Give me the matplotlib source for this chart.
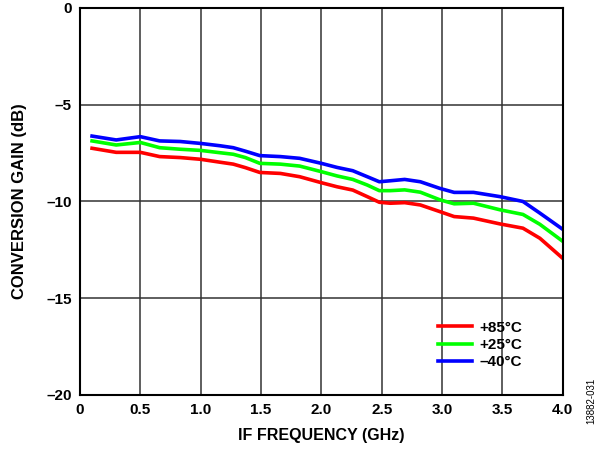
import matplotlib.pyplot as plt

freq = [0.1, 0.3, 0.5, 0.66, 0.83, 1.0, 1.16, 1.27, 1.37, 1.49, 1.66, 1.82, 2.0, 2.13,
        2.26, 2.38, 2.48, 2.57, 2.69, 2.82, 2.98, 3.1, 3.26, 3.48, 3.67, 3.81, 4.0]
gain_85 = [-7.25, -7.46, -7.46, -7.68, -7.73, -7.82, -7.97, -8.07, -8.25, -8.5, -8.55,
           -8.72, -9.03, -9.24, -9.41, -9.75, -10.04, -10.09, -10.06, -10.18, -10.52,
           -10.78, -10.86, -11.16, -11.38, -11.9, -12.94]
gain_25 = [-6.87, -7.08, -6.95, -7.22, -7.3, -7.36, -7.48, -7.56, -7.73, -8.03, -8.07,
           -8.17, -8.46, -8.68, -8.86, -9.15, -9.44, -9.44, -9.4, -9.52, -9.91,
           -10.12, -10.09, -10.43, -10.67, -11.18, -12.06]
gain_m40 = [-6.62, -6.82, -6.65, -6.87, -6.9, -7.0, -7.12, -7.22, -7.4, -7.63, -7.68,
            -7.77, -8.03, -8.24, -8.41, -8.72, -8.98, -8.93, -8.86, -8.98, -9.32,
            -9.53, -9.53, -9.75, -10.0, -10.6, -11.44]

xticks = [0, 0.5, 1.0, 1.5, 2.0, 2.5, 3.0, 3.5, 4.0]
xlabels = ['0', '0.5', '1.0', '1.5', '2.0', '2.5', '3.0', '3.5', '4.0']
yticks = [0, -5, -10, -15, -20]
ylabels = ['0', '–5', '–10', '–15', '–20']

plt.rcParams['font.family'] = ['Liberation Sans', 'DejaVu Sans']
plt.rcParams['font.weight'] = 'bold'

fig = plt.figure(figsize=(6.0, 4.51), dpi=100)
ax = fig.add_axes([0.1333, 0.1242, 0.8047, 0.8581])

ax.plot(freq, gain_85, color='#ff0000', lw=2.6, label='+85°C', solid_joinstyle='round')
ax.plot(freq, gain_25, color='#00ff00', lw=2.6, label='+25°C', solid_joinstyle='round')
ax.plot(freq, gain_m40, color='#0000ff', lw=2.6, label='–40°C', solid_joinstyle='round')

ax.set_xlim(0, 4.0)
ax.set_ylim(-20, 0)
ax.set_xticks(xticks)
ax.set_xticklabels(xlabels)
ax.set_yticks(yticks)
ax.set_yticklabels(ylabels)
ax.tick_params(length=0, labelsize=11, pad=6)
ax.grid(True, color='#333333', lw=1.1)
ax.set_axisbelow(True)
for s in ax.spines.values():
    s.set_linewidth(1.5)

ax.set_xlabel('IF FREQUENCY (GHz)', fontsize=11.5, fontweight='bold', labelpad=8)
ax.set_ylabel('CONVERSION GAIN (dB)', fontsize=12, fontweight='bold', labelpad=14)

ax.legend(loc='upper left', bbox_to_anchor=(0.742, 0.192), frameon=False, fontsize=11,
          handlelength=2.2, handletextpad=0.5, labelspacing=0.22,
          borderpad=0, borderaxespad=0)

fig.text(0.985, 0.06, '13882-031', rotation=90, fontsize=7, fontweight='normal',
         ha='center', va='bottom')

fig.savefig('out.png', dpi=100)
